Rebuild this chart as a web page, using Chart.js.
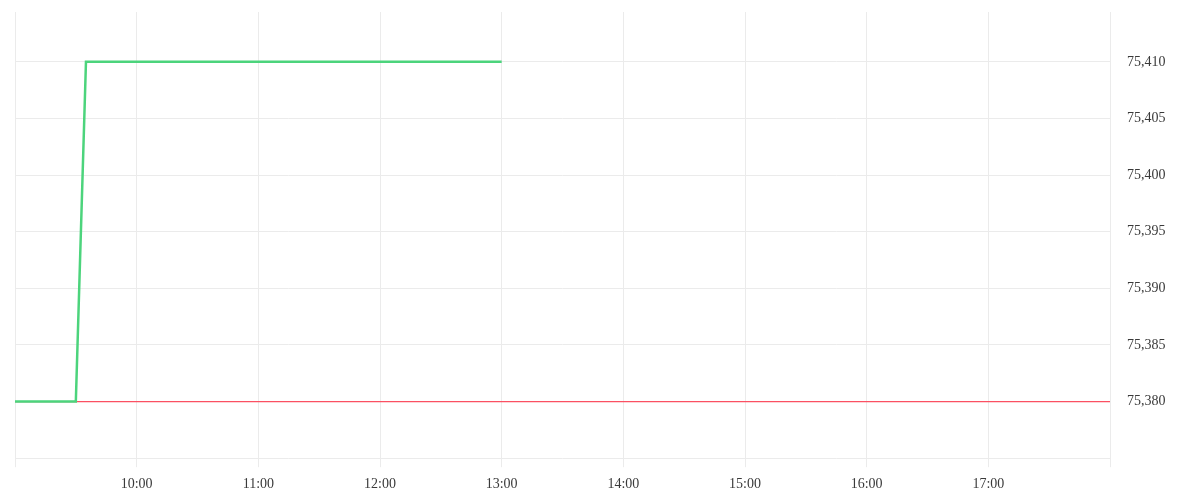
<!DOCTYPE html>
<html>
<head>
<meta charset="utf-8">
<script src="https://cdn.jsdelivr.net/npm/chart.js@4/dist/chart.umd.min.js"></script>
<style>
html,body{margin:0;padding:0;background:#fff;}
#wrap{width:1200px;height:500px;position:relative;}
</style>
</head>
<body>
<div id="wrap"><canvas id="c"></canvas></div>
<script>
// times in minutes since midnight
const greenTimes = [540, 570, 575, 780];
const greenValues = [75380, 75380, 75410, 75410];
const redTimes = [540, 1080];
const redValues = [75380, 75380];
const xMin = 540, xMax = 1080;
const yMin = 75375, yMax = 75414.4;

function pts(xs, ys){ return xs.map((x,i)=>({x:x, y:ys[i]})); }
function fmtTime(m){ const h=Math.floor(m/60), mm=m%60; return h+':'+String(mm).padStart(2,'0'); }

Chart.defaults.font.family = '"Liberation Serif", serif';
Chart.defaults.font.size = 14;
Chart.defaults.color = '#3a3a3a';

new Chart(document.getElementById('c'), {
  type: 'line',
  data: {
    datasets: [
      {
        data: pts(greenTimes, greenValues),
        borderColor: '#4cd47c',
        borderWidth: 2.5,
        pointRadius: 0,
        tension: 0,
        fill: false,
        order: 1
      },
      {
        data: pts(redTimes, redValues),
        borderColor: '#fb5062',
        borderWidth: 1.3,
        pointRadius: 0,
        tension: 0,
        fill: false,
        order: 2
      }
    ]
  },
  options: {
    responsive: true,
    maintainAspectRatio: false,
    animation: false,
    layout: { padding: { left: 15, top: 12, right: 0, bottom: -2 } },
    plugins: { legend: { display: false }, tooltip: { enabled: false } },
    scales: {
      x: {
        type: 'linear',
        min: xMin, max: xMax,
        ticks: {
          stepSize: 60,
          autoSkip: false,
          maxRotation: 0,
          padding: 9,
          callback: (v) => (v === xMin || v === xMax) ? '' : fmtTime(v)
        },
        grid: { color: '#ebebeb', tickLength: 9 },
        border: { display: false }
      },
      y: {
        position: 'right',
        min: yMin, max: yMax,
        afterBuildTicks: (s) => { s.ticks = s.ticks.filter(t => Math.abs(t.value % 5) < 1e-6); },
        ticks: {
          stepSize: 5,
          padding: 17,
          callback: (v) => v === yMin ? '' : v.toLocaleString('en-US')
        },
        grid: { color: '#ebebeb', drawTicks: false },
        border: { display: false },
        afterFit: (s) => { s.width = 90; s.paddingTop = 0; s.paddingBottom = 0; }
      }
    }
  }
});
</script>
</body>
</html>
